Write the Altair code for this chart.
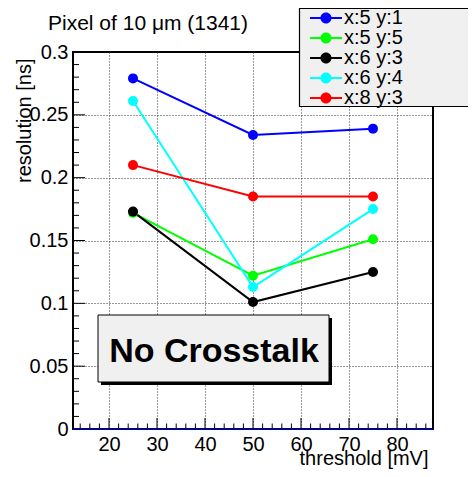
import altair as alt
import pandas as pd

# ---- data ----
thresholds = [25, 50, 75]
series_names = ["x:5 y:1", "x:5 y:5", "x:6 y:3", "x:6 y:4", "x:8 y:3"]
res_x5y1 = [0.279, 0.234, 0.239]
res_x5y5 = [0.172, 0.122, 0.151]
res_x6y3 = [0.173, 0.101, 0.125]
res_x6y4 = [0.261, 0.113, 0.175]
res_x8y3 = [0.210, 0.185, 0.185]
series_colors = ["#0000ff", "#00ff00", "#000000", "#00ffff", "#ff0000"]

x_major = [20, 30, 40, 50, 60, 70, 80]
y_major = [0, 0.05, 0.1, 0.15, 0.2, 0.25, 0.3]
x_minor = [v for v in range(14, 88, 2) if v % 10 != 0]
y_minor = [round(i * 0.01, 2) for i in range(0, 31) if i % 5 != 0]

title_text = "Pixel of 10 \u03bcm (1341)"
annotation_text = "No Crosstalk"
x_title = "threshold [mV]"
y_title = "resolution [ns]"

FONT = "Liberation Sans"
W, H = 360, 377
PAD = {"left": 65, "top": 44, "right": 35, "bottom": 40}

rows = []
for name, vals in zip(series_names, [res_x5y1, res_x5y5, res_x6y3, res_x6y4, res_x8y3]):
    for t, v in zip(thresholds, vals):
        rows.append({"series": name, "threshold": t, "resolution": v})
df = pd.DataFrame(rows)

x_scale = alt.Scale(domain=[12.5, 87.5], nice=False, zero=False)
y_scale = alt.Scale(domain=[0, 0.3], nice=False)

x_axis = alt.Axis(values=x_major, format="d", title=x_title, grid=True, ticks=False,
                  domain=False, labelFontSize=20, labelPadding=5, titleFontSize=20,
                  titleFontWeight="normal", titleX=355, titleY=35, titleAlign="right",
                  titleBaseline="alphabetic", titleAnchor="end")
y_axis = alt.Axis(values=y_major, format="~g", title=y_title, grid=True, ticks=False,
                  domain=False, labelFontSize=20, labelPadding=5, titleFontSize=20,
                  titleFontWeight="normal", titleAngle=270, titleX=-43, titleY=6,
                  titleAlign="right", titleBaseline="alphabetic", titleAnchor="end")

X = alt.X("threshold:Q", scale=x_scale, axis=x_axis)
Y = alt.Y("resolution:Q", scale=y_scale, axis=y_axis)

sym_path = ("M-2.67,-0.17 L2.67,-0.17 L2.67,0.17 L-2.67,0.17 Z "
            "M0.92,0 A0.92,0.92 0 1,1 -0.92,0 A0.92,0.92 0 1,1 0.92,0 Z")
legend = alt.Legend(title=None, orient="none", legendX=226, legendY=-44,
                    padding=0, symbolType=sym_path, symbolSize=144, symbolStrokeWidth=0,
                    symbolOffset=17, labelOffset=8, labelFontSize=20, labelFont=FONT,
                    labelColor="black", rowPadding=-0.3, labelLimit=1000, symbolOpacity=1)
C = alt.Color("series:N", scale=alt.Scale(domain=series_names, range=series_colors),
              legend=legend)

xt_major = alt.Chart(pd.DataFrame({"threshold": x_major})).mark_rule(
    color="black", strokeWidth=1).encode(x=X, y=alt.value(H), y2=alt.value(H - 11))
xt_minor = alt.Chart(pd.DataFrame({"threshold": x_minor})).mark_rule(
    color="black", strokeWidth=1).encode(x=X, y=alt.value(H), y2=alt.value(H - 5.5))
yt_major = alt.Chart(pd.DataFrame({"resolution": y_major})).mark_rule(
    color="black", strokeWidth=1).encode(y=Y, x=alt.value(0), x2=alt.value(12))
yt_minor = alt.Chart(pd.DataFrame({"resolution": y_minor})).mark_rule(
    color="black", strokeWidth=1).encode(y=Y, x=alt.value(0), x2=alt.value(6))

lines = alt.Chart(df).mark_line(strokeWidth=2).encode(x=X, y=Y, color=C, detail="series:N")
points = alt.Chart(df).mark_point(filled=True, size=100, opacity=1).encode(x=X, y=Y, color=C)

bottom = alt.Chart(pd.DataFrame({"resolution": [0]})).mark_rule(
    color="#000080", strokeWidth=2).encode(y=Y, x=alt.value(0), x2=alt.value(W))

one = pd.DataFrame({"t": [annotation_text]})
shadow = alt.Chart(one).mark_rect(color="black").encode(
    x=alt.value(28), x2=alt.value(259), y=alt.value(266), y2=alt.value(333))
box = alt.Chart(one).mark_rect(fill="#f0f0f0", stroke="black", strokeWidth=1).encode(
    x=alt.value(25), x2=alt.value(256), y=alt.value(263), y2=alt.value(330))
label = alt.Chart(one).mark_text(font=FONT, fontSize=34, fontWeight="bold", color="black",
                                 align="center", baseline="alphabetic").encode(
    text="t:N", x=alt.value(141), y=alt.value(309.5))

# legend frame (light grey box running off the right edge, as in the reference)
legend_box = alt.Chart(pd.DataFrame({"t": ["legend"]})).mark_rect(
    fill="#f0f0f0", stroke="black", strokeWidth=1.2).encode(
    x=alt.value(226.5), x2=alt.value(W + PAD["right"] + 5),
    y=alt.value(-43.5), y2=alt.value(54.5))

title = alt.Chart(pd.DataFrame({"t": [title_text]})).mark_text(
    font=FONT, fontSize=21, color="black", align="left", baseline="alphabetic").encode(
    text="t:N", x=alt.value(-25), y=alt.value(-22))

chart = alt.layer(xt_major, xt_minor, yt_major, yt_minor, lines, points, bottom,
                  shadow, box, label, legend_box, title).properties(
    width=W, height=H, autosize="none", padding=PAD, background="white",
).configure_view(stroke="black", strokeWidth=2).configure_axis(
    labelFont=FONT, titleFont=FONT, labelColor="black", titleColor="black",
    gridColor="black", gridDash=[1, 2], gridOpacity=0.8, gridWidth=1)

chart.save("out.html", embed_options={"renderer": "svg", "actions": False})
